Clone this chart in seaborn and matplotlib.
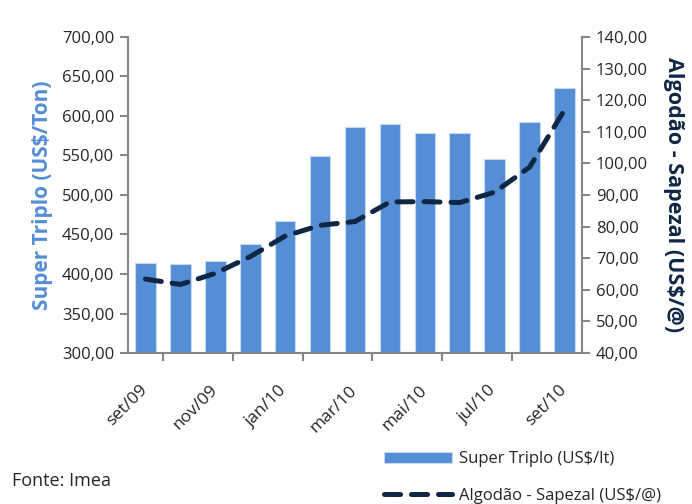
import numpy as np
import pandas as pd
import seaborn as sns
import matplotlib.pyplot as plt
import matplotlib.transforms as mtransforms
from matplotlib.ticker import MultipleLocator, FuncFormatter

# monthly series, set/09 .. set/10
months = ['set/09', 'out/09', 'nov/09', 'dez/09', 'jan/10', 'fev/10', 'mar/10',
          'abr/10', 'mai/10', 'jun/10', 'jul/10', 'ago/10', 'set/10']
super_triplo = [414, 412.5, 416.5, 438, 466.5, 549, 585.5, 590, 578, 578, 545, 593, 635]
algodao = [63.4, 61.7, 65.2, 70.5, 77.0, 80.4, 81.6, 87.8, 87.9, 87.6, 90.9, 98.8, 116.9]

bar_color = '#558ED5'
line_color = '#0F2745'
axis_gray = '#868686'

sns.set_style('white')
plt.rcParams['font.family'] = ['Open Sans', 'DejaVu Sans']

df = pd.DataFrame({'mes': months, 'super': super_triplo, 'algodao': algodao})

fig = plt.figure(figsize=(6.92, 5.04), dpi=100)
ax = fig.add_axes([0.185, 0.2996, 0.656, 0.627])
sns.barplot(data=df, x='mes', y='super', color=bar_color, width=0.59,
            edgecolor='#C6D9F1', linewidth=0.8, saturation=1, ax=ax,
            label='Super Triplo (US$/lt)')
ax.set_ylim(300, 700)
ax.set_xlim(-0.5, 12.5)
ax.yaxis.set_major_locator(MultipleLocator(50))

ax2 = ax.twinx()
sns.lineplot(data=df, x='mes', y='algodao', ax=ax2, sort=False, color=line_color,
             linewidth=3.6, label='Algodão - Sapezal (US$/@)')
ax2.lines[0].set_dashes([3.2, 2.2])
ax2.lines[0].set_dash_capstyle('round')
ax2.set_ylim(40, 140)
ax2.yaxis.set_major_locator(MultipleLocator(10))

comma = FuncFormatter(lambda v, p: f'{v:.2f}'.replace('.', ','))
ax.yaxis.set_major_formatter(comma)
ax2.yaxis.set_major_formatter(comma)

for a in (ax, ax2):
    for s in a.spines.values():
        s.set_visible(False)
ax.spines['left'].set_visible(True)
ax.spines['bottom'].set_visible(True)
ax2.spines['right'].set_visible(True)
for s in (ax.spines['left'], ax.spines['bottom'], ax2.spines['right']):
    s.set_color(axis_gray)
    s.set_linewidth(1.5)

# labels every other month, tick marks at group boundaries
ax.set_xticks(range(0, 13, 2))
ax.set_xticklabels(months[::2], rotation=45, ha='right', rotation_mode='anchor')
ax.set_xticks(np.arange(0.5, 12, 2), minor=True)
ax.tick_params(axis='x', which='major', length=0, labelsize=12.5, pad=21)
ax.tick_params(axis='x', which='minor', length=6, width=1.5, color=axis_gray, direction='out', bottom=True)
ax.tick_params(axis='y', length=6, width=1.5, color=axis_gray, direction='out', left=True, labelsize=12, pad=4)
ax2.tick_params(axis='y', length=6, width=1.5, color=axis_gray, direction='out', right=True, labelsize=12, pad=4)
shift = mtransforms.ScaledTranslation(-6 / 100, 0, fig.dpi_scale_trans)
for lbl in ax.get_xticklabels():
    lbl.set_transform(lbl.get_transform() + shift)

ax.set_xlabel('')
ax.set_ylabel('Super Triplo (US$/Ton)', color=bar_color, fontsize=15, fontweight='bold', labelpad=6)
ax2.set_ylabel('Algodão - Sapezal (US$/@)', color=line_color, fontsize=15.5, fontweight='bold',
               rotation=270, labelpad=26)

ax.get_legend().remove() if ax.get_legend() else None
ax2.get_legend().remove() if ax2.get_legend() else None
h1, l1 = ax.get_legend_handles_labels()
h2, l2 = ax2.get_legend_handles_labels()
fig.legend(h1 + h2, l1 + l2, loc='upper left', bbox_to_anchor=(0.545, 0.118),
           frameon=False, fontsize=12, handlelength=4.1, labelspacing=1.25,
           handletextpad=0.4, borderaxespad=0)

fig.text(0.017, 0.035, 'Fonte: Imea', fontsize=13)

fig.savefig('out.png', dpi=100)
